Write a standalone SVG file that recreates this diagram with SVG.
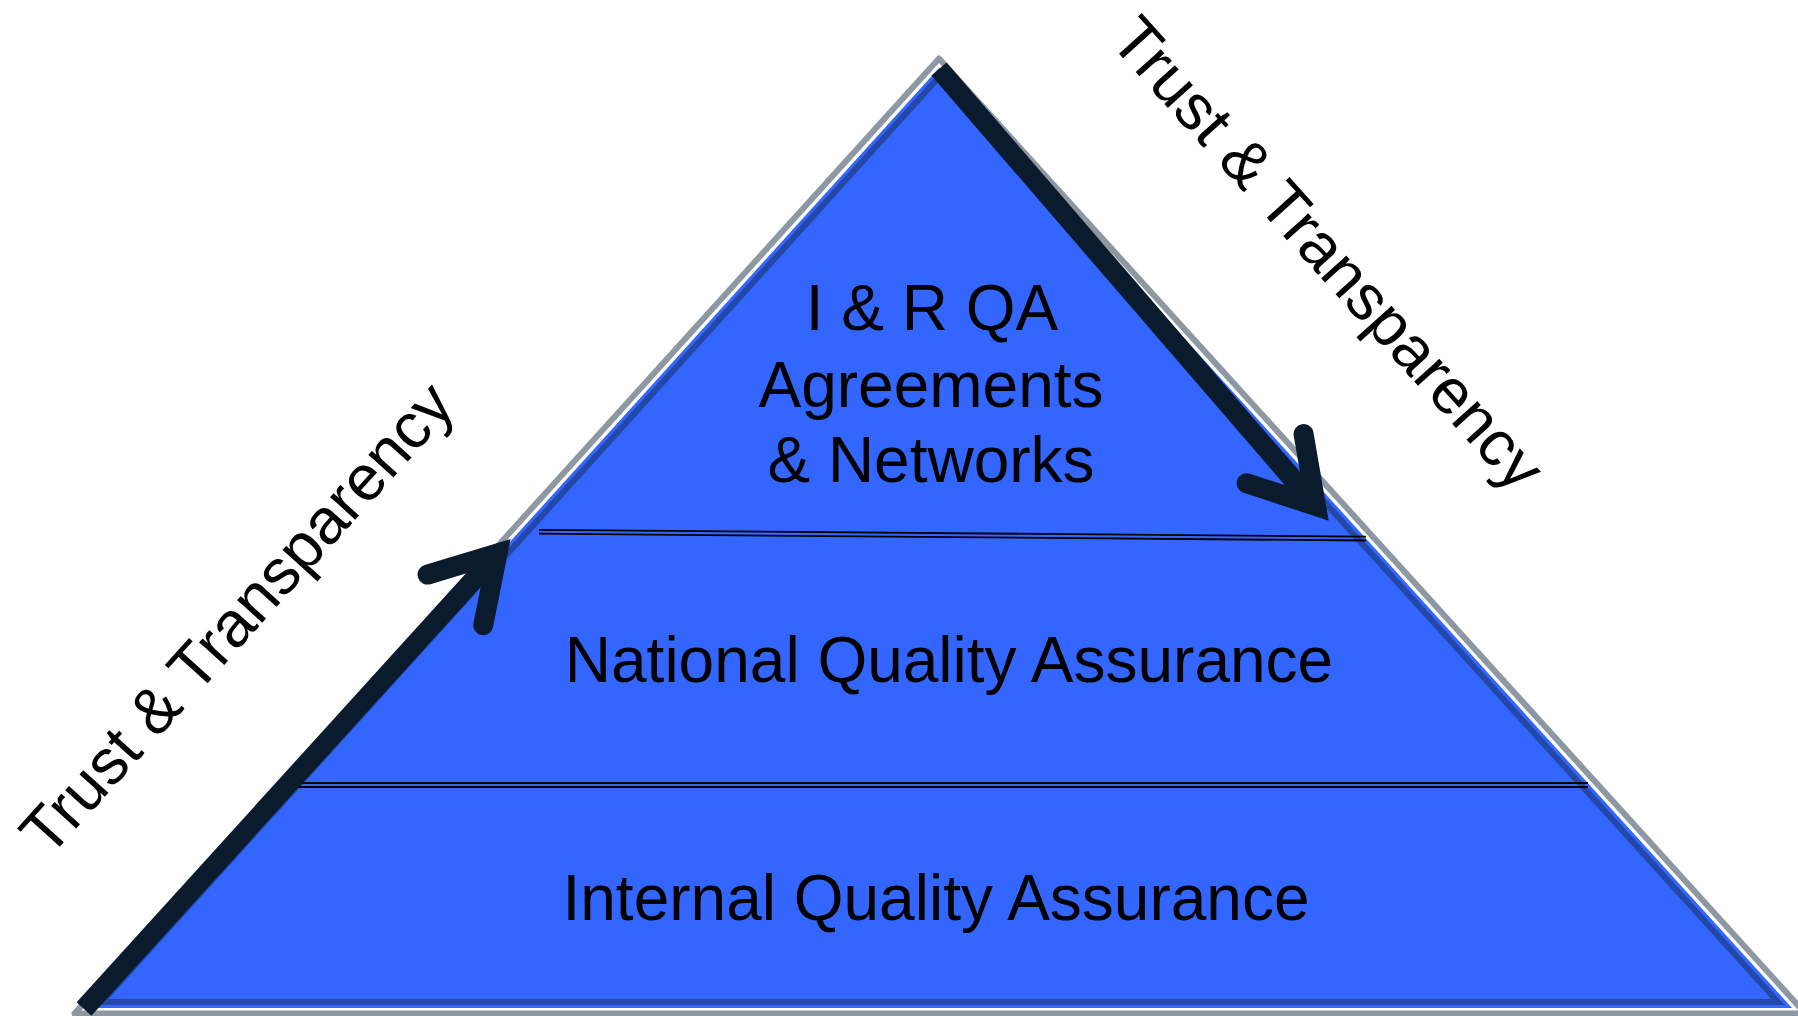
<svg xmlns="http://www.w3.org/2000/svg" width="1798" height="1016" viewBox="0 0 1798 1016">
  <style>
    .lbl { font-family: "Liberation Sans", Arial, sans-serif; font-size: 64px; fill: #000000; text-anchor: middle; }
    .side { font-family: "Liberation Sans", Arial, sans-serif; font-size: 64px; fill: #000000; text-anchor: middle; }
    .div { stroke: #000000; stroke-width: 1.8; fill: none; }
    .arrow { stroke: #0A1B2E; stroke-width: 20; fill: none; stroke-linecap: butt; }
  </style>
  <defs>
    <marker id="head" markerUnits="userSpaceOnUse" orient="auto" refX="0" refY="0" markerWidth="10" markerHeight="10" overflow="visible">
      <path d="M -62.6 -37.6 L 0 0 L -62.6 37.6" fill="none" stroke="#0A1B2E" stroke-width="20" stroke-linecap="round" stroke-linejoin="miter"/>
    </marker>
  </defs>
  <rect width="1798" height="1016" fill="#FFFFFF"/>
  <g id="pyramid">
    <polygon points="939,58.5 74.5,1013.5 1805.5,1013.5" fill="#FFFFFF" stroke="#8E98A3" stroke-width="6" stroke-linejoin="round"/>
    <polygon points="939,68 88,1008 1792,1008" fill="#3366FF"/>
    <polygon points="939,77 102,1002 1778,1002" fill="none" stroke="#2448A8" stroke-width="6"/>
  </g>
  <g id="dividers">
    <line class="div" x1="539" y1="529.8" x2="1366" y2="536.6"/>
    <line class="div" x1="539" y1="533.7" x2="1366" y2="540.5"/>
    <line class="div" x1="296" y1="783" x2="1588" y2="783"/>
    <line class="div" x1="296" y1="787" x2="1588" y2="787"/>
  </g>
  <g id="tier-top">
    <text class="lbl" x="932" y="330">I &amp; R QA</text>
    <text class="lbl" x="931" y="406.7">Agreements</text>
    <text class="lbl" x="931" y="481.7">&amp; Networks</text>
  </g>
  <g id="tier-middle">
    <text class="lbl" x="949" y="682">National Quality Assurance</text>
  </g>
  <g id="tier-bottom">
    <text class="lbl" x="936" y="920">Internal Quality Assurance</text>
  </g>
  <g id="side-labels">
    <text class="side" transform="translate(253,633) rotate(-47.9)">Trust &amp; Transparency</text>
    <text class="side" transform="translate(1312,268) rotate(48)">Trust &amp; Transparency</text>
  </g>
  <g id="connectors">
    <path class="arrow" d="M 84 1009 L 497.5 553.5" marker-end="url(#head)"/>
    <path class="arrow" d="M 939 69 L 1316 506" marker-end="url(#head)"/>
  </g>
</svg>
